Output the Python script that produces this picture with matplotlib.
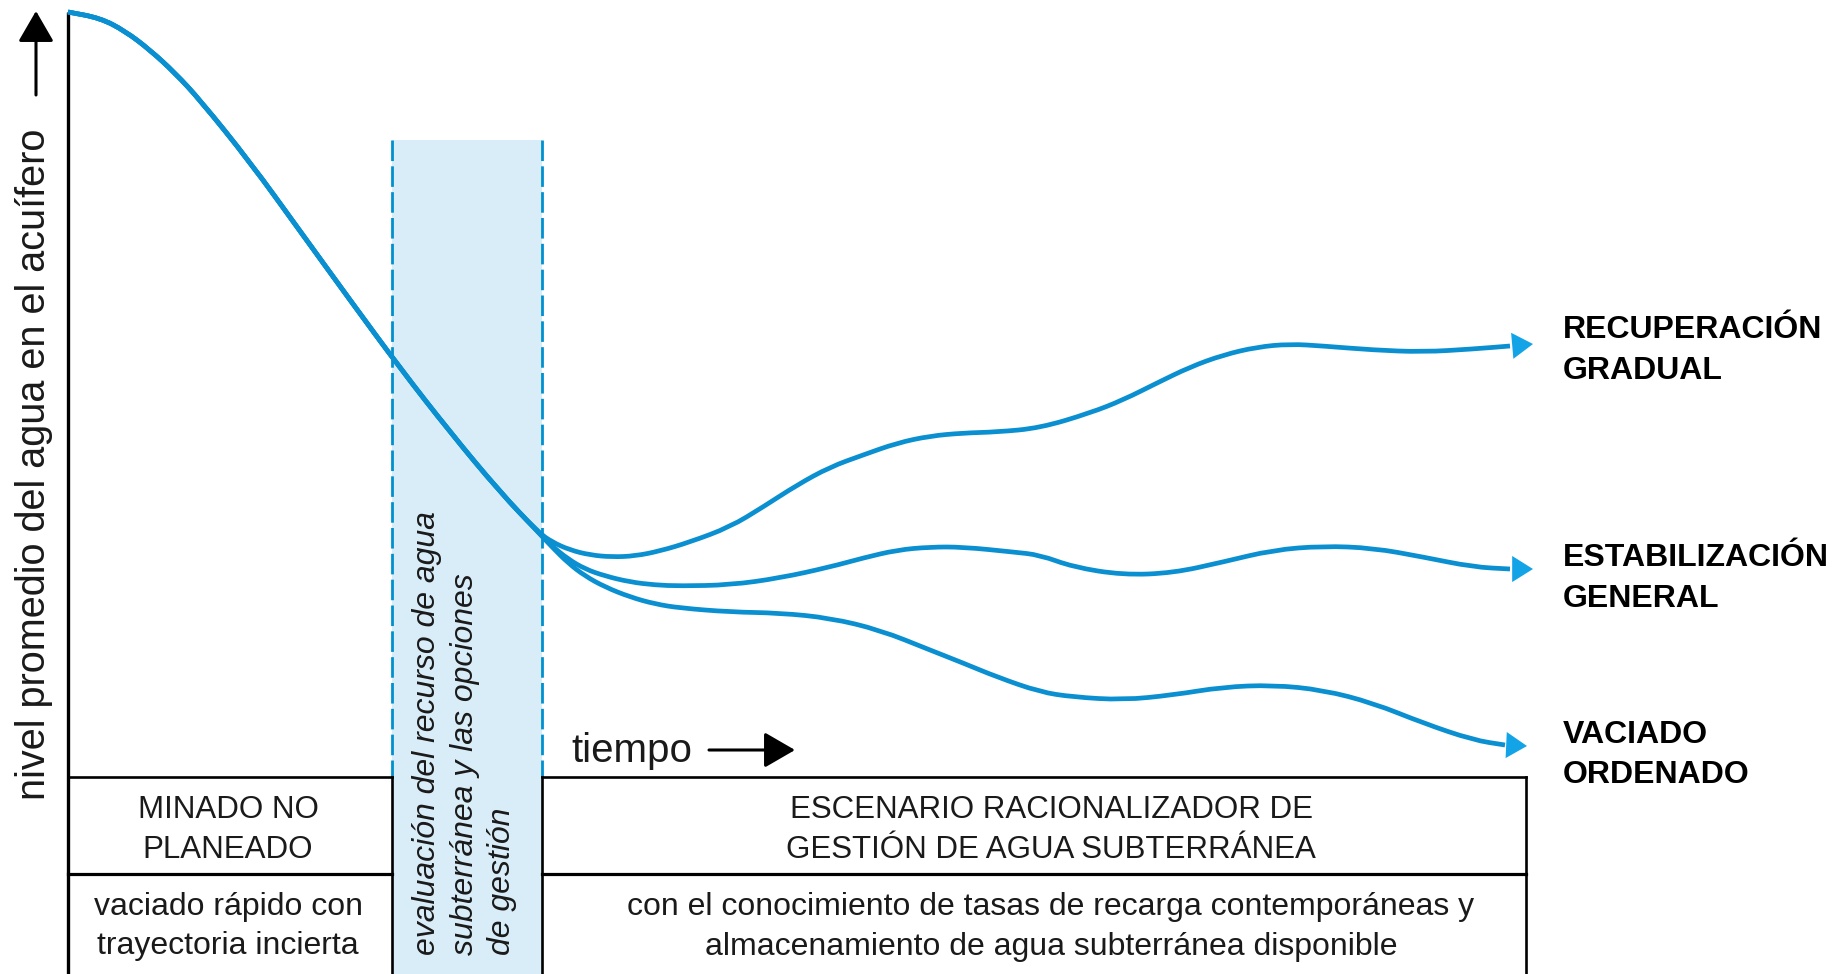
import matplotlib
matplotlib.use("Agg")
import matplotlib.pyplot as plt
from matplotlib.path import Path
from matplotlib.patches import PathPatch, Rectangle
import numpy as np

plt.rcParams['font.family'] = ['Liberation Sans', 'DejaVu Sans']

# ---------------- data (time t, groundwater level h, arbitrary units) ----------------
main_t = [0.0, 3.2, 5.7, 8.2, 10.7, 13.2, 18.2, 23.2, 28.2, 33.2, 38.2, 43.2, 47.0]
main_h = [76.4, 75.8, 74.5, 72.6, 70.3, 67.6, 61.4, 54.5, 47.6, 40.8, 34.4, 28.4, 24.4]

rec_t = [48.4, 50.2, 52.2, 54.4, 56.7, 59.2, 62.2, 66.2, 69.5, 72.9, 76.2, 79.5, 82.9, 86.2,
         89.5, 92.9, 97.2, 102.2, 105.5, 108.9, 112.2, 115.5, 118.9, 122.2, 125.5, 130.5,
         135.5, 140.5, 144.2, 146.5]
rec_h = [23.4, 22.6, 22.1, 21.9, 22.0, 22.5, 23.4, 24.9, 26.9, 29.1, 30.9, 32.1, 33.3, 34.0,
         34.3, 34.4, 34.8, 36.3, 37.6, 39.3, 40.9, 42.1, 42.9, 43.2, 43.0, 42.6,
         42.4, 42.7, 43.0, 43.2]

est_t = [48.4, 50.0, 51.7, 53.7, 56.2, 58.7, 61.2, 66.2, 71.2, 76.2, 79.5, 82.9, 86.2, 89.5,
         94.5, 97.2, 100.5, 105.5, 110.5, 115.5, 120.5, 125.5, 130.5, 135.5, 140.5, 144.2, 146.5]
est_h = [23.0, 21.7, 20.7, 20.0, 19.4, 19.1, 19.0, 19.1, 19.8, 20.9, 21.8, 22.6, 22.9, 22.9,
         22.4, 22.1, 20.9, 20.1, 20.3, 21.4, 22.6, 23.0, 22.8, 21.9, 20.9, 20.7, 20.7]

vac_t = [48.4, 50.0, 51.7, 53.7, 56.2, 58.7, 61.2, 66.2, 71.2, 76.2, 81.2, 86.2, 89.5, 92.9,
         97.2, 100.5, 105.5, 110.5, 115.5, 120.5, 125.5, 130.5, 135.5, 140.5, 143.7, 145.9]
vac_h = [22.9, 21.3, 20.0, 18.9, 17.9, 17.2, 16.8, 16.4, 16.3, 15.8, 14.6, 12.6, 11.3, 9.9,
         8.4, 7.9, 7.6, 8.1, 8.9, 9.1, 8.6, 7.3, 5.3, 3.6, 3.1, 3.0]

scenario_names = [("RECUPERACIÓN", "GRADUAL"), ("ESTABILIZACIÓN", "GENERAL"), ("VACIADO", "ORDENADO")]
ylabel_text = "nivel promedio del agua en el acuífero"
xlabel_text = "tiempo"
phase1_title = ["MINADO NO", "PLANEADO"]
phase1_desc = ["vaciado rápido con", "trayectoria incierta"]
phase2_text = ["evaluación del recurso de agua", "subterránea y las opciones", "de gestión"]
phase3_title = ["ESCENARIO RACIONALIZADOR DE", "GESTIÓN DE AGUA SUBTERRÁNEA"]
phase3_desc = ["con el conocimiento de tasas de recarga contemporáneas y",
               "almacenamiento de agua subterránea disponible"]

# ---------------- style ----------------
BLUE = '#0a8fd0'
ARROW_BLUE = '#12a4e6'
BAND = '#d9edf8'
INK = '#1a1a1a'

fig = plt.figure(figsize=(18.39, 9.74), dpi=100)
ax = fig.add_axes([0, 0, 1, 1])
ax.set_xlim(-6.8, 177.1)
ax.set_ylim(-19.8, 77.6)
ax.axis('off')


def X(px):
    return px / 10 - 6.8


def Y(py):
    return 77.6 - py / 10


def smooth_path(ts, hs):
    pts = np.column_stack([ts, hs]).astype(float)
    verts = [pts[0]]
    codes = [Path.MOVETO]
    verts.append((pts[0] + pts[1]) / 2)
    codes.append(Path.LINETO)
    for i in range(1, len(pts) - 1):
        verts += [pts[i], (pts[i] + pts[i + 1]) / 2]
        codes += [Path.CURVE3, Path.CURVE3]
    verts.append(pts[-1])
    codes.append(Path.LINETO)
    return Path(verts, codes)


# band of assessment phase
ax.add_patch(Rectangle((X(392), Y(974)), X(542) - X(392), Y(140) - Y(974),
                       facecolor=BAND, edgecolor='none', zorder=0))
for xb in (392, 542):
    ax.plot([X(xb), X(xb)], [Y(140), Y(777)], color='#0090d0', lw=2.0,
            dashes=(7.4, 1.9), zorder=1)

# table lines
LW = 1.9
ax.plot([X(68), X(68)], [Y(12), Y(974)], color='black', lw=2.4, zorder=3,
        solid_capstyle='butt')
for yb, lw in ((777, LW), (874, 2.3)):
    ax.plot([X(68), X(392)], [Y(yb), Y(yb)], color='black', lw=lw, zorder=3)
    ax.plot([X(542), X(1526)], [Y(yb), Y(yb)], color='black', lw=lw, zorder=3)
for xb in (392, 542, 1526):
    ax.plot([X(xb), X(xb)], [Y(777), Y(974)], color='black', lw=LW, zorder=3)

# curves
branches = [(rec_t, rec_h), (est_t, est_h), (vac_t, vac_h)]
for bt, bh in branches:
    ts = main_t + bt[:-1]
    hs = main_h + bh[:-1]
    ax.add_patch(PathPatch(smooth_path(ts, hs), fill=False, edgecolor=BLUE,
                           lw=3.4, capstyle='butt', joinstyle='round', zorder=4))
    ax.annotate('', xy=(bt[-1], bh[-1]), xytext=(bt[-2], bh[-2]),
                arrowprops=dict(arrowstyle='-|>,head_length=0.75,head_width=0.47',
                                mutation_scale=20, color=ARROW_BLUE, lw=0,
                                shrinkA=0, shrinkB=0), zorder=5)

# scenario labels
label_base = [(338, 379), (566, 607), (743, 783)]
for (l1, l2), (b1, b2) in zip(scenario_names, label_base):
    ax.text(X(1563), Y(b1), l1, fontsize=23, fontweight='bold', color='black',
            ha='left', va='baseline')
    ax.text(X(1563), Y(b2), l2, fontsize=23, fontweight='bold', color='black',
            ha='left', va='baseline')

# y label with arrow
ax.text(X(34), Y(800), ylabel_text, fontsize=28.5, rotation=90, color=INK,
        ha='center', va='bottom')
ax.annotate('', xy=(X(36), Y(11)), xytext=(X(36), Y(95)),
            arrowprops=dict(arrowstyle='-|>,head_length=0.95,head_width=0.55',
                            mutation_scale=20, color='black', lw=2.2,
                            shrinkA=0, shrinkB=0))

# time label with arrow
ax.text(X(571), Y(762), xlabel_text, fontsize=29, color=INK, ha='left', va='baseline')
ax.annotate('', xy=(X(795), Y(750)), xytext=(X(709), Y(750)),
            arrowprops=dict(arrowstyle='-|>,head_length=0.95,head_width=0.55',
                            mutation_scale=20, color='black', lw=2.2,
                            shrinkA=0, shrinkB=0))

# phase texts
for txt, b in zip(phase1_title, (818, 858)):
    ax.text(X(228), Y(b), txt, fontsize=22.5, color=INK, ha='center', va='baseline')
for txt, b in zip(phase1_desc, (915, 954)):
    ax.text(X(228), Y(b), txt, fontsize=23, color=INK, ha='center', va='baseline')
for txt, b in zip(phase3_title, (818, 858)):
    ax.text(X(1051), Y(b), txt, fontsize=22.5, color=INK, ha='center', va='baseline')
for txt, b in zip(phase3_desc, (915, 955)):
    ax.text(X(1051), Y(b), txt, fontsize=23, color=INK, ha='center', va='baseline')
for txt, xc in zip(phase2_text, (427, 465, 502)):
    ax.text(X(xc), Y(955), txt, fontsize=23, style='italic', color=INK,
            rotation=90, ha='center', va='bottom')

fig.savefig('out.png', dpi=100)
